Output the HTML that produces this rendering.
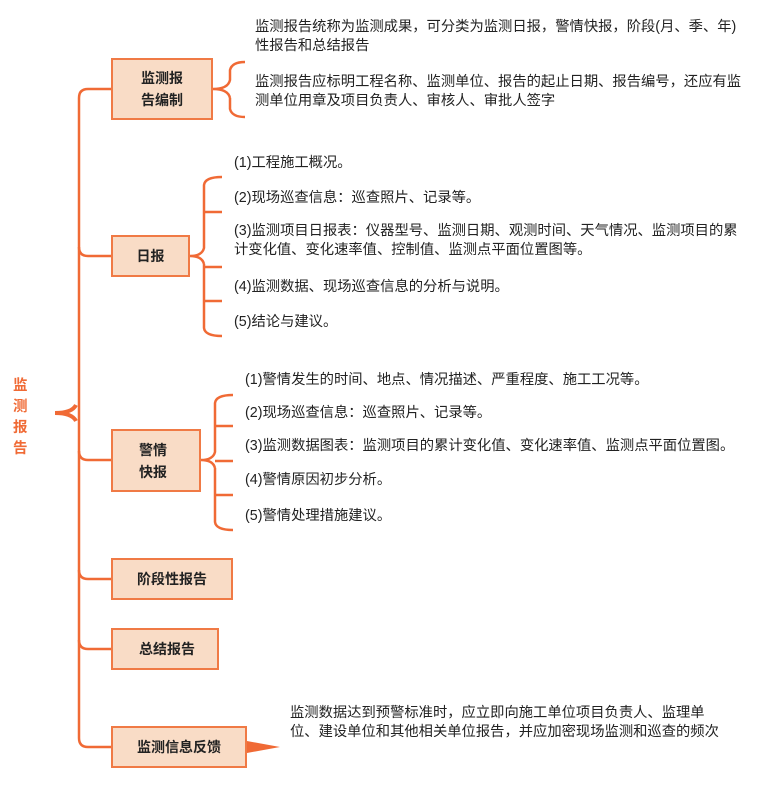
<!DOCTYPE html>
<html><head><meta charset="utf-8"><style>
body{margin:0;width:757px;height:797px;background:#fff;position:relative;overflow:hidden;font-family:"Liberation Sans","Noto Sans CJK SC",sans-serif;}
.b{position:absolute;background:#f9dcc6;border:2px solid #f07a45;box-sizing:border-box;display:flex;align-items:center;justify-content:center;font-weight:bold;font-size:14px;color:#222;line-height:22px;text-align:center}
.t{position:absolute;font-size:14.3px;color:#222;white-space:nowrap;line-height:19px}
svg{position:absolute;left:0;top:0}
</style></head><body>
<svg width="757" height="797" fill="none" stroke="#f06a35" stroke-width="2.5">
<path d="M111 89 H88 Q79 89 79 98 V738 Q79 747 88 747 H111"/>
<path d="M79 247 Q79 256 88 256 H111"/>
<path d="M79 451 Q79 460 88 460 H111"/>
<path d="M79 570 Q79 579 88 579 H111"/>
<path d="M79 640 Q79 649 88 649 H111"/>
<path d="M55 413 Q72 413 76 405 M55 413 Q72 413 76 421" stroke-width="4"/>
<path d="M213 89 Q228 89 230 80 V70 Q232 62 245 62 M230 98 V109 Q232 117 245 117 M213 89 Q228 89 230 98" />
<path d="M190 256 Q202 256 204 248 V185 Q205 177 222 177 M204 264 V328 Q205 336 222 336 M190 256 Q202 256 204 264 M204 212 H222 M204 267 H222 M204 301 H222"/>
<path d="M201 460 Q213 460 215 452 V403 Q216 395 233 395 M215 468 V522 Q216 530 233 530 M201 460 Q213 460 215 468 M215 426 H233 M215 461 H233 M215 495 H233"/>
<path d="M247 741 L280 747 L247 753 Z" fill="#f06a35" stroke="none"/>
</svg>
<div style="position:absolute;left:13px;top:376px;width:18px;color:#f06a35;font-weight:bold;font-size:14.5px;line-height:21px">监<br>测<br>报<br>告</div>
<div class="b" style="left:111px;top:58px;width:102px;height:62px">监测报<br>告编制</div>
<div class="b" style="left:111px;top:235px;width:79px;height:42px">日报</div>
<div class="b" style="left:111px;top:429px;width:90px;height:63px;justify-content:flex-start;padding-left:26px;text-align:left">警情<br>快报</div>
<div class="b" style="left:111px;top:558px;width:122px;height:42px">阶段性报告</div>
<div class="b" style="left:111px;top:628px;width:108px;height:42px;justify-content:flex-start;padding-left:26px">总结报告</div>
<div class="b" style="left:111px;top:726px;width:136px;height:42px">监测信息反馈</div>
<div class="t" style="left:255px;top:18px">监测报告统称为监测成果，可分类为监测日报，警情快报，阶段(月、季、年)<br>性报告和总结报告</div>
<div class="t" style="left:255px;top:73px">监测报告应标明工程名称、监测单位、报告的起止日期、报告编号，还应有监<br>测单位用章及项目负责人、审核人、审批人签字</div>
<div class="t" style="left:234px;top:154px">(1)工程施工概况。</div>
<div class="t" style="left:234px;top:189px">(2)现场巡查信息：巡查照片、记录等。</div>
<div class="t" style="left:234px;top:222px">(3)监测项目日报表：仪器型号、监测日期、观测时间、天气情况、监测项目的累<br>计变化值、变化速率值、控制值、监测点平面位置图等。</div>
<div class="t" style="left:234px;top:278px">(4)监测数据、现场巡查信息的分析与说明。</div>
<div class="t" style="left:234px;top:313px">(5)结论与建议。</div>
<div class="t" style="left:245px;top:371px">(1)警情发生的时间、地点、情况描述、严重程度、施工工况等。</div>
<div class="t" style="left:245px;top:404px">(2)现场巡查信息：巡查照片、记录等。</div>
<div class="t" style="left:245px;top:437px">(3)监测数据图表：监测项目的累计变化值、变化速率值、监测点平面位置图。</div>
<div class="t" style="left:245px;top:471px">(4)警情原因初步分析。</div>
<div class="t" style="left:245px;top:507px">(5)警情处理措施建议。</div>
<div class="t" style="left:290px;top:704px">监测数据达到预警标准时，应立即向施工单位项目负责人、监理单<br>位、建设单位和其他相关单位报告，并应加密现场监测和巡查的频次</div>
</body></html>
